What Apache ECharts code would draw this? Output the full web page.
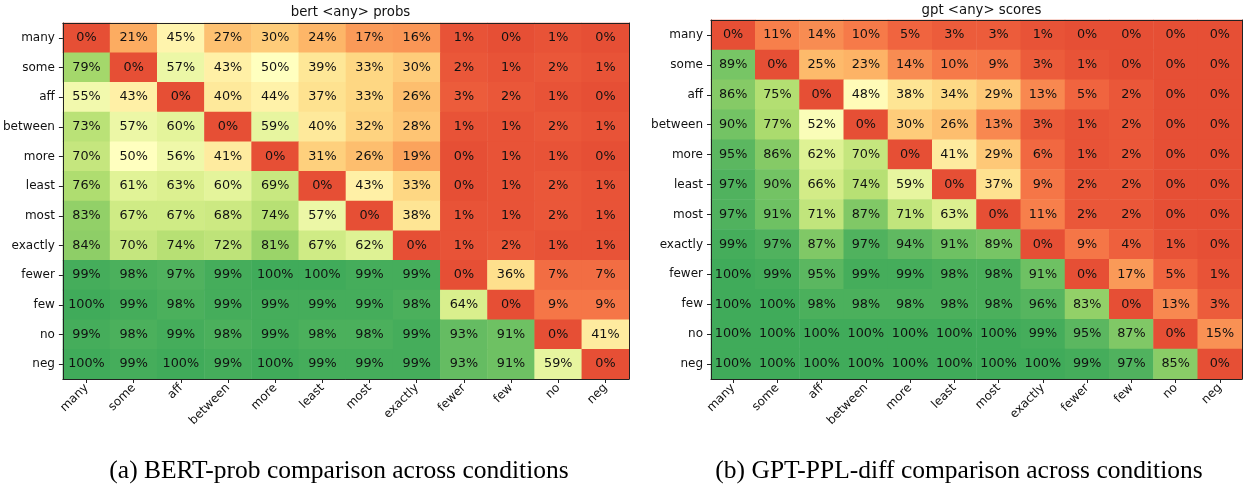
<!DOCTYPE html>
<html>
<head>
<meta charset="utf-8">
<script src="https://cdn.jsdelivr.net/npm/echarts@6/dist/echarts.min.js"></script>
<style>
  html, body { margin: 0; padding: 0; background: #fff; }
  #main { width: 1247px; height: 488px; }
</style>
</head>
<body>
<div id="main"></div>
<script>
// conditions, same order on both axes
const conditions = ['many', 'some', 'aff', 'between', 'more', 'least', 'most', 'exactly', 'fewer', 'few', 'no', 'neg'];

// (a) bert <any> probs, one row per condition (percent)
const bertMany    = [0, 21, 45, 27, 30, 24, 17, 16, 1, 0, 1, 0];
const bertSome    = [79, 0, 57, 43, 50, 39, 33, 30, 2, 1, 2, 1];
const bertAff     = [55, 43, 0, 40, 44, 37, 33, 26, 3, 2, 1, 0];
const bertBetween = [73, 57, 60, 0, 59, 40, 32, 28, 1, 1, 2, 1];
const bertMore    = [70, 50, 56, 41, 0, 31, 26, 19, 0, 1, 1, 0];
const bertLeast   = [76, 61, 63, 60, 69, 0, 43, 33, 0, 1, 2, 1];
const bertMost    = [83, 67, 67, 68, 74, 57, 0, 38, 1, 1, 2, 1];
const bertExactly = [84, 70, 74, 72, 81, 67, 62, 0, 1, 2, 1, 1];
const bertFewer   = [99, 98, 97, 99, 100, 100, 99, 99, 0, 36, 7, 7];
const bertFew     = [100, 99, 98, 99, 99, 99, 99, 98, 64, 0, 9, 9];
const bertNo      = [99, 98, 99, 98, 99, 98, 98, 99, 93, 91, 0, 41];
const bertNeg     = [100, 99, 100, 99, 100, 99, 99, 99, 93, 91, 59, 0];

// (b) gpt <any> scores
const gptMany    = [0, 11, 14, 10, 5, 3, 3, 1, 0, 0, 0, 0];
const gptSome    = [89, 0, 25, 23, 14, 10, 9, 3, 1, 0, 0, 0];
const gptAff     = [86, 75, 0, 48, 38, 34, 29, 13, 5, 2, 0, 0];
const gptBetween = [90, 77, 52, 0, 30, 26, 13, 3, 1, 2, 0, 0];
const gptMore    = [95, 86, 62, 70, 0, 41, 29, 6, 1, 2, 0, 0];
const gptLeast   = [97, 90, 66, 74, 59, 0, 37, 9, 2, 2, 0, 0];
const gptMost    = [97, 91, 71, 87, 71, 63, 0, 11, 2, 2, 0, 0];
const gptExactly = [99, 97, 87, 97, 94, 91, 89, 0, 9, 4, 1, 0];
const gptFewer   = [100, 99, 95, 99, 99, 98, 98, 91, 0, 17, 5, 1];
const gptFew     = [100, 100, 98, 98, 98, 98, 98, 96, 83, 0, 13, 3];
const gptNo      = [100, 100, 100, 100, 100, 100, 100, 99, 95, 87, 0, 15];
const gptNeg     = [100, 100, 100, 100, 100, 100, 100, 100, 99, 97, 85, 0];

const bertRows = [bertMany, bertSome, bertAff, bertBetween, bertMore, bertLeast, bertMost, bertExactly, bertFewer, bertFew, bertNo, bertNeg];
const gptRows = [gptMany, gptSome, gptAff, gptBetween, gptMore, gptLeast, gptMost, gptExactly, gptFewer, gptFew, gptNo, gptNeg];

function toCells (rows) {
  const out = [];
  rows.forEach((row, y) => row.forEach((v, x) => out.push([x, y, v])));
  return out;
}

// RdYlGn, only its middle part is used (like the picture)
const rdylgn = ['#a50026', '#d73027', '#f46d43', '#fdae61', '#fee08b', '#ffffbf', '#d9ef8b', '#a6d96a', '#66bd63', '#1a9850', '#006837'];
function hex (c) { return [1, 3, 5].map(i => parseInt(c.slice(i, i + 2), 16)); }
function cmap (t) {
  const p = t * (rdylgn.length - 1);
  const i = Math.min(Math.floor(p), rdylgn.length - 2);
  const f = p - i;
  const a = hex(rdylgn[i]);
  const b = hex(rdylgn[i + 1]);
  return 'rgb(' + a.map((v, k) => Math.round(v + (b[k] - v) * f)).join(',') + ')';
}
const ramp = [];
for (let k = 0; k <= 20; k++) ramp.push(cmap(0.15 + 0.7 * k / 20));

const font = 'DejaVu Sans';
const frame = '#222';

function axesFor (gi) {
  const x = [
    {
      type: 'category', gridIndex: gi, data: conditions, z: 10,
      axisLine: { show: true, lineStyle: { color: frame, width: 1 } },
      axisTick: { show: true, alignWithLabel: true, length: 4, lineStyle: { color: frame } },
      axisLabel: { rotate: 45, margin: 7, fontFamily: font, fontSize: 12, color: '#111' },
      splitLine: { show: false }
    },
    {
      type: 'category', gridIndex: gi, data: conditions, position: 'top', z: 10,
      axisLine: { show: true, lineStyle: { color: frame, width: 1 } },
      axisTick: { show: false }, axisLabel: { show: false }
    }
  ];
  const y = [
    {
      type: 'category', gridIndex: gi, data: conditions, inverse: true, z: 10,
      axisLine: { show: true, lineStyle: { color: frame, width: 1 } },
      axisTick: { show: true, alignWithLabel: true, length: 4, lineStyle: { color: frame } },
      axisLabel: { margin: 8, fontFamily: font, fontSize: 12, color: '#111' },
      splitLine: { show: false }
    },
    {
      type: 'category', gridIndex: gi, data: conditions, inverse: true, position: 'right', z: 10,
      axisLine: { show: true, lineStyle: { color: frame, width: 1 } },
      axisTick: { show: false }, axisLabel: { show: false }
    }
  ];
  return { x, y };
}

const a0 = axesFor(0);
const a1 = axesFor(1);

const cellLabel = {
  show: true,
  fontFamily: font,
  fontSize: 12.8,
  color: '#111',
  formatter: p => p.value[2] + '%'
};

const chart = echarts.init(document.getElementById('main'), null, { renderer: 'canvas' });
chart.setOption({
  backgroundColor: '#fff',
  animation: false,
  title: [
    { text: 'bert <any> probs', left: 345.5, top: 1, textAlign: 'center',
      textStyle: { fontFamily: font, fontSize: 13.3, fontWeight: 'normal', color: '#111' } },
    { text: 'gpt <any> scores', left: 976.5, top: -1, textAlign: 'center',
      textStyle: { fontFamily: font, fontSize: 13.3, fontWeight: 'normal', color: '#111' } },
    { text: '(a) BERT-prob comparison across conditions', left: 334, top: 453, textAlign: 'center',
      textStyle: { fontFamily: 'Liberation Serif', fontSize: 25.5, fontWeight: 'normal', color: '#000' } },
    { text: '(b) GPT-PPL-diff comparison across conditions', left: 954, top: 453, textAlign: 'center',
      textStyle: { fontFamily: 'Liberation Serif', fontSize: 25.5, fontWeight: 'normal', color: '#000' } }
  ],
  grid: [
    { left: 62, top: 23, width: 567, height: 356, containLabel: false },
    { left: 711, top: 20, width: 531, height: 359, containLabel: false }
  ],
  xAxis: [a0.x[0], a0.x[1], a1.x[0], a1.x[1]],
  yAxis: [a0.y[0], a0.y[1], a1.y[0], a1.y[1]],
  visualMap: [
    { show: false, type: 'continuous', min: 0, max: 100, seriesIndex: 0, inRange: { color: ramp } },
    { show: false, type: 'continuous', min: 0, max: 100, seriesIndex: 1, inRange: { color: ramp } }
  ],
  series: [
    { type: 'heatmap', xAxisIndex: 0, yAxisIndex: 0, data: toCells(bertRows), label: cellLabel,
      emphasis: { disabled: true } },
    { type: 'heatmap', xAxisIndex: 2, yAxisIndex: 2, data: toCells(gptRows), label: cellLabel,
      emphasis: { disabled: true } }
  ]
});
</script>
</body>
</html>
